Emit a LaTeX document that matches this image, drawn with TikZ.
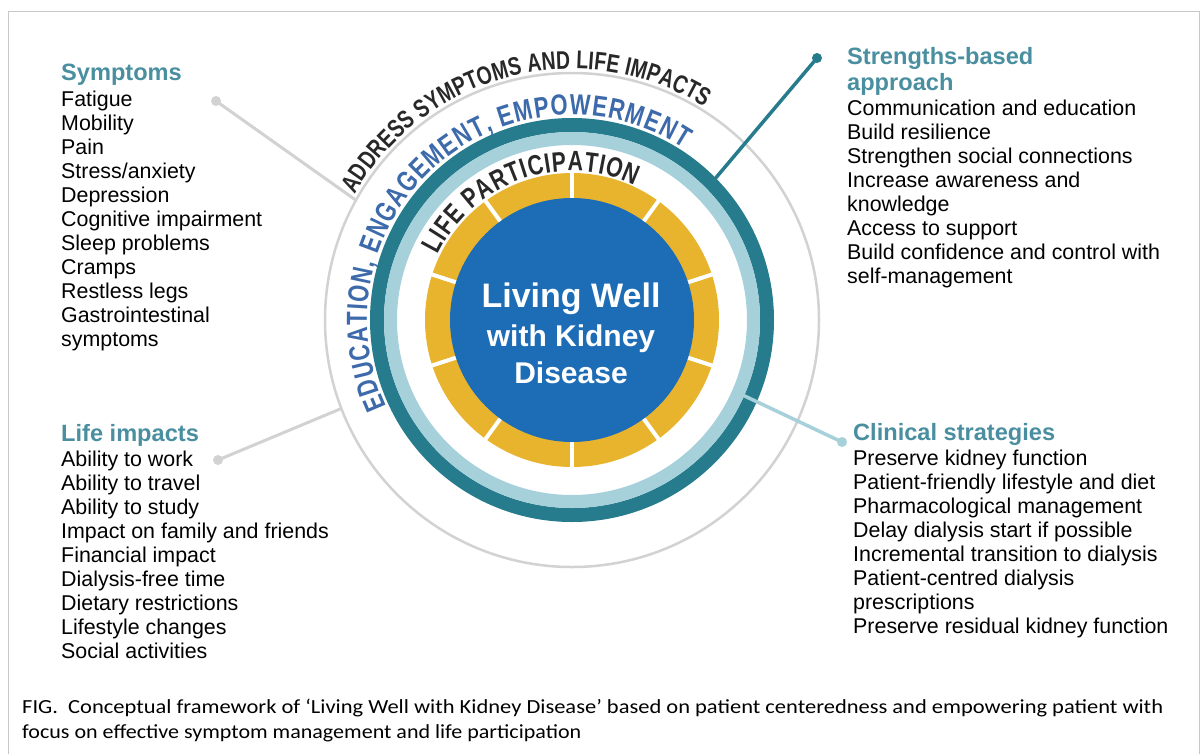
\documentclass[tikz,border=0pt]{standalone}
\usepackage{fontspec}
\usepackage{graphicx}
\setmainfont{Liberation Sans}
\newfontfamily\curvefam{Liberation Sans}[FakeStretch=0.76]
\newfontfamily\capfam{Carlito}
\usetikzlibrary{decorations.text,calc}
\definecolor{tealring}{RGB}{38,124,140}
\definecolor{lightring}{RGB}{166,209,219}
\definecolor{ygold}{RGB}{232,180,46}
\definecolor{coreblue}{RGB}{28,108,182}
\definecolor{edublue}{RGB}{60,106,170}
\definecolor{headteal}{RGB}{74,143,160}
\definecolor{greyline}{RGB}{210,210,210}
\definecolor{framegrey}{RGB}{200,200,200}
\definecolor{darktext}{RGB}{40,40,40}
\newcommand\addrfont{\fontsize{25.5pt}{25.5pt}\selectfont\curvefam\bfseries}
\newcommand\edufont{\fontsize{29pt}{29pt}\selectfont\curvefam\bfseries}
\newcommand\lifefont{\fontsize{28pt}{28pt}\selectfont\curvefam\bfseries}
\begin{document}
\begin{tikzpicture}[x=1pt,y=1pt,
  item/.style={anchor=base west, inner sep=0, font=\fontsize{21.4pt}{24pt}\selectfont, text=black},
  head/.style={anchor=base west, inner sep=0, font=\fontsize{23.6pt}{27pt}\selectfont\bfseries, text=headteal},
  coretext/.style={anchor=base, inner sep=0, text=white},
  dotnode/.style={circle, inner sep=0, minimum size=10},
  capline/.style={anchor=base west, inner sep=0, font=\capfam\fontsize{20pt}{24pt}\selectfont}
]
\useasboundingbox (0,0) rectangle (1203,-753);
\fill[white] (0,0) rectangle (1203,-753);
\draw[framegrey, line width=1.3] (8.5,-11.5) rectangle (1199.5,-770);

% rings
\coordinate (c) at (572,-320);
\draw[greyline, line width=2.5] (c) circle[radius=247];
\draw[tealring, line width=14] (c) circle[radius=195];
\draw[lightring, line width=13] (c) circle[radius=181.5];
\draw[ygold, line width=26] (c) circle[radius=134];
\foreach \a in {90,126,...,414}
  \draw[white, line width=4] ([shift={(\a:115)}]c) -- ([shift={(\a:150)}]c);
\node[circle, fill=coreblue, minimum size=244, inner sep=0] (core) at (c) {};

% centre text
\node[coretext, font=\fontsize{34pt}{34pt}\selectfont\bfseries] (t1) at (571,-307) {Living Well};
\node[coretext, font=\fontsize{30pt}{30pt}\selectfont\bfseries] (t2) at (571,-346) {with Kidney};
\node[coretext, font=\fontsize{30pt}{30pt}\selectfont\bfseries] (t3) at (571,-383) {Disease};

% curved texts
\path[decorate, decoration={text along path, text align={fit to path}, text color=darktext,
  text={|\addrfont|ADDRESS SYMPTOMS AND LIFE IMPACTS}}]
  ([shift={(150:251)}]c) arc[start angle=150, end angle=58, radius=251];
\path[decorate, decoration={text along path, text align={fit to path}, text color=edublue,
  text={|\edufont|EDUCATION, ENGAGEMENT, EMPOWERMENT}}]
  ([shift={(205:205)}]c) arc[start angle=205, end angle=57, radius=205];
\path[decorate, decoration={text along path, text align={fit to path}, text color=darktext,
  text={|\lifefont|LIFE PARTICIPATION}}]
  ([shift={(154:149)}]c) arc[start angle=154, end angle=65, radius=149];

% connectors
\node[dotnode, fill=greyline] (d1) at (216,-101) {};
\coordinate (e1) at ([shift={(151:247)}]c);
\draw[greyline, line width=3] (d1.center) -- (e1);
\node[dotnode, fill=greyline] (d2) at (218,-460) {};
\coordinate (e2) at ([shift={(201:248)}]c);
\draw[greyline, line width=3] (d2.center) -- (e2);
\node[dotnode, fill=tealring] (d3) at (817,-58) {};
\coordinate (e3) at ([shift={(44.6:200)}]c);
\draw[tealring, line width=3.5] (e3) -- (d3.center);
\node[dotnode, fill=lightring] (d4) at (842,-442) {};
\coordinate (e4) at ([shift={(-23.7:182)}]c);
\draw[lightring, line width=3.5] (e4) -- (d4.center);

% Symptoms
\node[head] (hsym) at (61,-80) {Symptoms};
\foreach \t [count=\i] in {Fatigue,Mobility,Pain,Stress/anxiety,Depression,Cognitive impairment,Sleep problems,Cramps,Restless legs,Gastrointestinal,symptoms}
  \node[item] (sym\i) at (61,{-106-24*(\i-1)}) {\t};

% Life impacts
\node[head] (hlife) at (61,-441) {Life impacts};
\foreach \t [count=\i] in {Ability to work,Ability to travel,Ability to study,Impact on family and friends,Financial impact,Dialysis-free time,Dietary restrictions,Lifestyle changes,Social activities}
  \node[item] (life\i) at (61,{-466-24*(\i-1)}) {\t};

% Strengths-based approach
\node[head] (hstr1) at (847,-64) {Strengths-based};
\node[head] (hstr2) at (847,-90) {approach};
\foreach \t [count=\i] in {Communication and education,Build resilience,Strengthen social connections,Increase awareness and,knowledge,Access to support,Build confidence and control with,self-management}
  \node[item] (str\i) at (847,{-115-24*(\i-1)}) {\t};

% Clinical strategies
\node[head] (hcli) at (853,-440) {Clinical strategies};
\foreach \t [count=\i] in {Preserve kidney function,Patient-friendly lifestyle and diet,Pharmacological management,Delay dialysis start if possible,Incremental transition to dialysis,Patient-centred dialysis,prescriptions,Preserve residual kidney function}
  \node[item] (cli\i) at (853,{-465-24*(\i-1)}) {\t};

% caption
\node[capline] (cap1) at (22,-713) {\resizebox{1141pt}{\height}{FIG.\ \ Conceptual framework of ‘Living Well with Kidney Disease’ based on patient centeredness and empowering patient with}};
\node[capline] (cap2) at (22,-738) {\resizebox{559pt}{\height}{focus on effective symptom management and life participation}};
\end{tikzpicture}
\end{document}
